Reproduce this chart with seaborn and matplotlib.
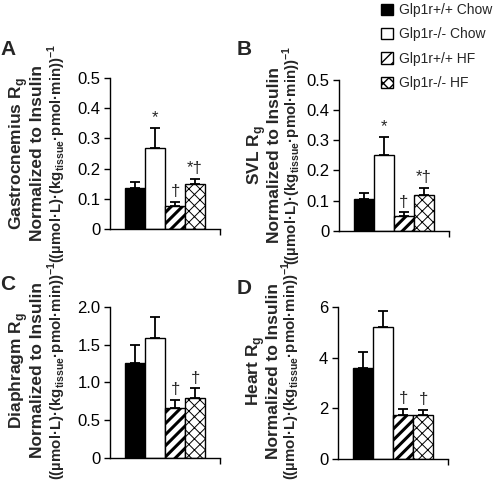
import pandas as pd
import matplotlib
matplotlib.use("Agg")
import matplotlib.pyplot as plt
from matplotlib.patches import Patch
import seaborn as sns

# group labels and bar styles
groups = ["Glp1r+/+ Chow", "Glp1r-/- Chow", "Glp1r+/+ HF", "Glp1r-/- HF"]
colors = ["black", "white", "white", "white"]
hatches = ["", "", "///", "xxx"]
hatch_widths = [1.0, 1.0, 2.2, 0.7]

# panel data (mean and SEM)
gastro_mean = [0.135, 0.268, 0.077, 0.150]
gastro_err = [0.022, 0.066, 0.013, 0.015]
svl_mean = [0.105, 0.250, 0.048, 0.120]
svl_err = [0.022, 0.062, 0.013, 0.023]
diaph_mean = [1.26, 1.59, 0.66, 0.79]
diaph_err = [0.24, 0.27, 0.11, 0.13]
heart_mean = [3.57, 5.21, 1.73, 1.73]
heart_err = [0.65, 0.63, 0.25, 0.20]

# significance marks above each bar
marks_ab = ["", "*", "\u2020", "*\u2020"]
marks_cd = ["", "", "\u2020", "\u2020"]

# axis ticks
ticks_ab = [0, 0.1, 0.2, 0.3, 0.4, 0.5]
ticklabels_ab = ["0", "0.1", "0.2", "0.3", "0.4", "0.5"]
ticks_c = [0, 0.5, 1.0, 1.5, 2.0]
ticklabels_c = ["0", "0.5", "1.0", "1.5", "2.0"]
ticks_d = [0, 2, 4, 6]
ticklabels_d = ["0", "2", "4", "6"]

norm_line = "Normalized to Insulin"
unit_line = r"((µmol·L)·(kg$_\mathbf{tissue}$·pmol·min))$^{\mathbf{{-}1}}$"

sns.set_style("white")
plt.rcParams["font.family"] = ["Liberation Sans", "DejaVu Sans"]
plt.rcParams["mathtext.fontset"] = "custom"
plt.rcParams["mathtext.rm"] = "Liberation Sans"
plt.rcParams["mathtext.bf"] = "Liberation Sans:bold"
plt.rcParams["hatch.color"] = "black"
plt.rcParams["hatch.linewidth"] = 1.0

fig = plt.figure(figsize=(5.0, 4.84), dpi=100)

panels = [
    ("A", "Gastrocnemius", gastro_mean, gastro_err, marks_ab, ticks_ab, ticklabels_ab,
     [0.22, 0.527, 0.22, 0.312], [-0.83, -0.66, -0.48], 0.5),
    ("B", "SVL", svl_mean, svl_err, marks_ab, ticks_ab, ticklabels_ab,
     [0.678, 0.523, 0.22, 0.312], [-0.75, -0.59, -0.43], 0.5),
    ("C", "Diaphragm", diaph_mean, diaph_err, marks_cd, ticks_c, ticklabels_c,
     [0.22, 0.054, 0.22, 0.312], [-0.83, -0.66, -0.48], 0.58),
    ("D", "Heart", heart_mean, heart_err, marks_cd, ticks_d, ticklabels_d,
     [0.676, 0.052, 0.22, 0.314], [-0.75, -0.59, -0.43], 0.58),
]

letter_pos = {"A": (0.0, 0.886), "B": (0.474, 0.886), "C": (0.0, 0.400), "D": (0.474, 0.392)}

for letter, tissue, mean, err, marks, ticks, ticklabels, rect, label_x, label_y in panels:
    ax = fig.add_axes(rect)
    df = pd.DataFrame({"group": groups, "value": mean, "err": err})
    sns.barplot(data=df, x="group", y="value", hue="group",
                palette=dict(zip(groups, colors)), width=1.0,
                edgecolor="black", linewidth=1.0, errorbar=None,
                legend=False, ax=ax)
    for patch, h, hw in zip(ax.patches, hatches, hatch_widths):
        patch.set_hatch(h)
        patch.set_hatch_linewidth(hw)
    x = list(range(len(groups)))
    ax.errorbar(x, df["value"], yerr=[[0] * len(err), df["err"]], fmt="none",
                ecolor="black", elinewidth=1.3, capsize=3.5, capthick=1.3, zorder=1)
    for i, m in enumerate(marks):
        if m:
            ax.annotate(m, xy=(i, mean[i] + err[i]), xytext=(0, 2),
                        textcoords="offset points", ha="center", va="bottom",
                        fontsize=12)
    ax.set_xlim(-1.25, 4.25)
    ax.set_ylim(ticks[0], ticks[-1])
    ax.set_yticks(ticks)
    ax.set_yticklabels(ticklabels)
    ax.set_xticks([4.25])
    ax.set_xticklabels([""])
    ax.set_xlabel("")
    ax.set_ylabel("")
    sns.despine(ax=ax)
    for s in ("left", "bottom"):
        ax.spines[s].set_linewidth(1.0)
        ax.spines[s].set_color("black")
    ax.tick_params(axis="both", direction="out", length=4, width=1.0,
                   labelsize=12, pad=3, colors="black", left=True, bottom=True)

    # three-line y label, third line a bit smaller
    lines = [tissue + r" R$_\mathbf{g}$", norm_line, unit_line]
    sizes = [12.5, 12.5, 10.8]
    for txt, lx, fs in zip(lines, label_x, sizes):
        ax.text(lx, label_y, txt, transform=ax.transAxes, rotation=90,
                ha="center", va="center", fontsize=fs, fontweight="bold")

    fig.text(*letter_pos[letter], letter, fontsize=15, fontweight="bold",
             ha="left", va="baseline")

handles = []
for c, h, hw in zip(colors, hatches, hatch_widths):
    p = Patch(facecolor=c, edgecolor="black", hatch=h, linewidth=1.0)
    p.set_hatch_linewidth(hw)
    handles.append(p)
fig.legend(handles, groups, loc="upper left", bbox_to_anchor=(0.748, 1.008),
           frameon=False, fontsize=10, handlelength=0.9, handleheight=0.9,
           handletextpad=0.4, labelspacing=0.75, borderpad=0.0)

fig.savefig("out.png", dpi=100)
